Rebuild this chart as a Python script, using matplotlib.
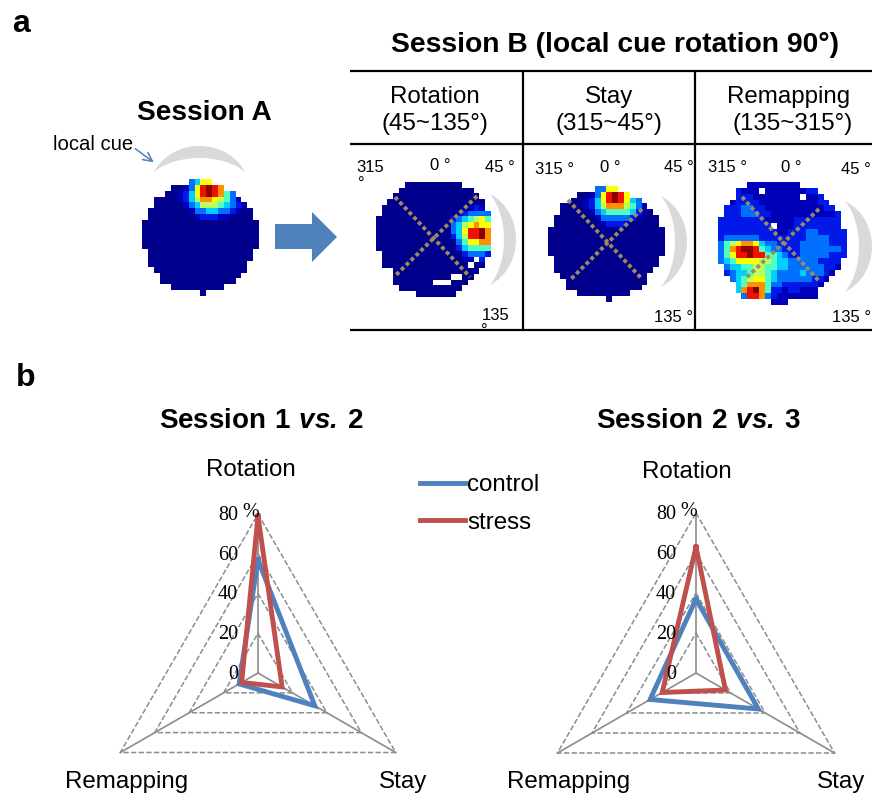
import numpy as np
import matplotlib
matplotlib.use("Agg")
import matplotlib.pyplot as plt
from matplotlib.colors import ListedColormap
from matplotlib.patches import PathPatch, Polygon
from matplotlib.path import Path

plt.rcParams['font.family'] = ['Liberation Sans', 'DejaVu Sans']
plt.rcParams['mathtext.fontset'] = 'custom'
plt.rcParams['mathtext.bf'] = 'Liberation Sans:bold'
plt.rcParams['mathtext.bfit'] = 'Liberation Sans:italic:bold'

# rate maps, one char per cell: 0-9 and a are firing levels, blank is no data
map_a = [
    "        3477        ",
    "     001379a98      ",
    "    0012479a9853    ",
    "  000012468876531   ",
    "  0000013466654321  ",
    " 000000013344332100 ",
    " 000000001222110000 ",
    "00000000000000000000",
    "00000000000000000000",
    "00000000000000000000",
    "00000000000000000000",
    "00000000000000000000",
    " 000000000000000000 ",
    " 000000000000000000 ",
    " 00000000000000000  ",
    "  0000000000000000  ",
    "   00000000000000   ",
    "   0000000000000    ",
    "     000000000      ",
    "          0         ",
]
map_rotation = [
    "     0000000000     ",
    "    0000000000000   ",
    "   000000000000000  ",
    "  00000000000000000 ",
    " 000000000000000121 ",
    " 0000000000000123333",
    "00000000000002345675",
    "00000000000003467877",
    "000000000000034799a8",
    "000000000000024699a8",
    "00000000000000357788",
    "00000000000000245555",
    " 0000000000000023332",
    " 0000000000000011 2 ",
    " 000000000000000 00 ",
    "   000000000000000  ",
    "   0000000000  00   ",
    "   0000000   000    ",
    "    00000000000     ",
    "       0000000      ",
]
map_stay = [
    "        3377        ",
    "     001379a97      ",
    "    0012479a9743    ",
    "  000012468886531   ",
    "  0000013455554210  ",
    " 000000013333321000 ",
    " 000000001222100000 ",
    "00000000000000000000",
    "00000000000000000000",
    "00000000000000000000",
    "00000000000000000000",
    "00000000000000000000",
    " 000000000000000000 ",
    " 000000000000000000 ",
    " 00000000000000000  ",
    "  000000000000000   ",
    "   00000000000000   ",
    "   0000000000000    ",
    "     000000000      ",
    "          0         ",
]
map_remapping = [
    "     111111111        ",
    "   2111 111111122     ",
    "   22211111111 112    ",
    "  12222111111111122   ",
    " 2223322111111111122  ",
    " 22233322111111111112 ",
    "222222221111122222222 ",
    "222222222 11122222222 ",
    "2222222222112223322222",
    "2333333222222223333222",
    "3567887433222233333222",
    "3589aa9543322233333332",
    "35799a9955432233333222",
    "345777766544333332222 ",
    " 34455665544333333221 ",
    " 2344566543333433321  ",
    "  34567754333333221   ",
    "   458885332222221    ",
    "   489a8522122111     ",
    "    3998321111111     ",
    "         111          ",
]
level_colors = ['#00008c', '#0000b8', '#0018e8', '#0070ff', '#00d0ff', '#50ffc0',
                '#b8ff60', '#ffff00', '#ff9000', '#f01000', '#8c0000']

# radar values in percent
axis_labels = ['Rotation', 'Stay', 'Remapping']
ring_values = [20, 40, 60, 80]
tick_values = [0, 20, 40, 60, 80]
control_1v2 = [57, 33, 11]
stress_1v2 = [79, 14, 9.5]
control_2v3 = [37, 36, 26.5]
stress_2v3 = [63, 17, 19.5]

BLUE = '#4f81bd'
RED = '#c0504d'
GREY = '#8c8c8c'
CUE = '#d9d9d9'
DOTS = '#9a8c5c'
W, H = 872, 794

fig = plt.figure(figsize=(W / 100, H / 100), dpi=100)
ax = fig.add_axes([0, 0, 1, 1])
cmap = ListedColormap(level_colors)
cmap.set_bad('white')


def parse_map(rows):
    grid = np.full((len(rows), len(rows[0])), np.nan)
    for i, row in enumerate(rows):
        for j, ch in enumerate(row):
            if ch != ' ':
                grid[i, j] = int(ch, 16)
    return grid


def draw_map(rows, x0, x1, y0, y1):
    ax.imshow(parse_map(rows), cmap=cmap, vmin=-0.5, vmax=10.5, aspect='auto',
              extent=(x0, x1, y1, y0), interpolation='nearest')


def draw_cue(p0, p1, outer, inner):
    # crescent between two curves, outer and inner are the bulge sizes in pixels
    p0 = np.array(p0, float)
    p1 = np.array(p1, float)
    chord = p1 - p0
    normal = np.array([chord[1], -chord[0]]) / np.hypot(*chord)
    a1 = p0 + 0.2 * chord + normal * outer * 4 / 3
    a2 = p0 + 0.8 * chord + normal * outer * 4 / 3
    b1 = p0 + 0.75 * chord + normal * inner * 4 / 3
    b2 = p0 + 0.25 * chord + normal * inner * 4 / 3
    verts = [p0, a1, a2, p1, b1, b2, p0]
    codes = [Path.MOVETO] + [Path.CURVE4] * 6
    ax.add_patch(PathPatch(Path(verts, codes), fc=CUE, ec='none'))


def dotted(x0, y0, x1, y1):
    ax.plot([x0, x1], [y0, y1], color=DOTS, lw=2.8, ls=(0, (1, 0.75)))


draw_map(map_a, 142, 258, 179, 296)
draw_map(map_rotation, 376, 490, 182, 297)
draw_map(map_stay, 548, 665, 186, 302)
draw_map(map_remapping, 718, 846, 182, 305)

draw_cue((154, 172), (245, 172), 26, 14)
draw_cue((490, 194), (490, 285), 26, 14)
draw_cue((661, 196), (661, 287), 26, 14)
draw_cue((845, 201), (845, 292), 27, 14)

dotted(395, 197, 470, 277)
dotted(477, 196, 395, 276)
dotted(568, 200, 642, 279)
dotted(642, 209, 570, 280)
dotted(742, 197, 819, 281)
dotted(819, 209, 745, 279)

# table rules
for y in (71, 144, 330):
    ax.plot([350, 872], [y, y], color='black', lw=1.6, solid_capstyle='butt')
for x in (523, 695):
    ax.plot([x, x], [71, 330], color='black', lw=1.6, solid_capstyle='butt')

# block arrow between the sessions
ax.add_patch(Polygon([(275, 224), (312, 224), (312, 212), (337, 237), (312, 262),
                      (312, 249), (275, 249)], fc=BLUE, ec='none'))
ax.annotate('', xy=(156, 164), xytext=(133, 147),
            arrowprops=dict(arrowstyle='->', color=BLUE, lw=1.1, mutation_scale=16))

ax.set_xlim(0, W)
ax.set_ylim(H, 0)
ax.axis('off')

ax.text(12, 32, 'a', fontsize=23, fontweight='bold', va='baseline')
ax.text(16, 386, 'b', fontsize=23, fontweight='bold', va='baseline')
ax.text(615, 45, 'Session B (local cue rotation 90°)', fontsize=20.3, fontweight='bold',
        ha='center', va='center')
ax.text(204.5, 113, 'Session A', fontsize=20.2, fontweight='bold', ha='center', va='center')
ax.text(53, 144, 'local cue', fontsize=14.6, va='center')

headers = [('Rotation', 435, '(45~135°)', 435), ('Stay', 609, '(315~45°)', 609),
           ('Remapping', 789, '(135~315°)', 793)]
for top, x_top, bottom, x_bottom in headers:
    ax.text(x_top, 97, top, fontsize=17.4, ha='center', va='center')
    ax.text(x_bottom, 124, bottom, fontsize=17.4, ha='center', va='center')

angle_labels = [(356, 168, '315'), (358, 184, '°'), (430, 165, '0 °'), (485, 168, '45 °'),
                (482, 315, '135'), (481, 331, '°'),
                (535, 169, '315 °'), (600, 167, '0 °'), (664, 167, '45 °'), (654, 317, '135 °'),
                (708, 168, '315 °'), (781, 167, '0 °'), (841, 170, '45 °'), (832, 317, '135 °')]
for x, y, s in angle_labels:
    ax.text(x, y, s, fontsize=12, va='center')

ax.text(261, 421, r'$\mathbf{Session\ 1}\ \mathbfit{vs.}\,\mathbf{2}$', fontsize=20,
        ha='center', va='center')
ax.text(698, 421, r'$\mathbf{Session\ 2}\ \mathbfit{vs.}\,\mathbf{3}$', fontsize=20,
        ha='center', va='center')

ax.text(251, 470, axis_labels[0], fontsize=17.4, ha='center', va='center')
ax.text(126.5, 782, axis_labels[2], fontsize=17.4, ha='center', va='center')
ax.text(403.5, 782, axis_labels[1], fontsize=17.4, ha='center', va='center')
ax.text(687, 472, axis_labels[0], fontsize=17.4, ha='center', va='center')
ax.text(568.5, 782, axis_labels[2], fontsize=17.4, ha='center', va='center')
ax.text(841, 782, axis_labels[1], fontsize=17.4, ha='center', va='center')

theta = np.deg2rad([0, 120, 240, 0])


def radar(cx, cy, radius, control, stress):
    rax = fig.add_axes([(cx - radius) / W, 1 - (cy + radius) / H, 2 * radius / W, 2 * radius / H],
                       projection='polar')
    rax.set_theta_zero_location('N')
    rax.set_theta_direction(-1)
    rax.set_ylim(0, 80)
    rax.axis('off')
    for t in theta[:3]:
        rax.plot([t, t], [0, 80], color=GREY, lw=1.2, clip_on=False)
    for r in ring_values:
        rax.plot(theta, [r] * 4, color=GREY, lw=1.1, ls=(0, (3.5, 1.5)), clip_on=False)
    l1, = rax.plot(theta, list(control) + [control[0]], color=BLUE, lw=3.5, clip_on=False,
                   solid_joinstyle='miter', label='control')
    l2, = rax.plot(theta, list(stress) + [stress[0]], color=RED, lw=3.5, clip_on=False,
                   solid_joinstyle='miter', label='stress')
    for v in tick_values:
        rax.annotate(str(v), (0, v), xytext=(-14.4, -1), textcoords='offset points', ha='right',
                     va='center', fontsize=14.5, family='Liberation Serif', annotation_clip=False)
    rax.annotate('%', (0, 80), xytext=(-11, 1), textcoords='offset points', ha='left',
                 va='center', fontsize=14.5, family='Liberation Serif', annotation_clip=False)
    return l1, l2


radar(258, 673, 159, control_1v2, stress_1v2)
handles = radar(696, 673, 160, control_2v3, stress_2v3)

fig.legend(handles, ['control', 'stress'], loc='upper left', bbox_to_anchor=(420 / W, 1 - 474 / H),
           frameon=False, fontsize=17.4, handlelength=1.85, handletextpad=0.1, labelspacing=0.66,
           borderpad=0, borderaxespad=0)

fig.savefig('out.png', dpi=100)
